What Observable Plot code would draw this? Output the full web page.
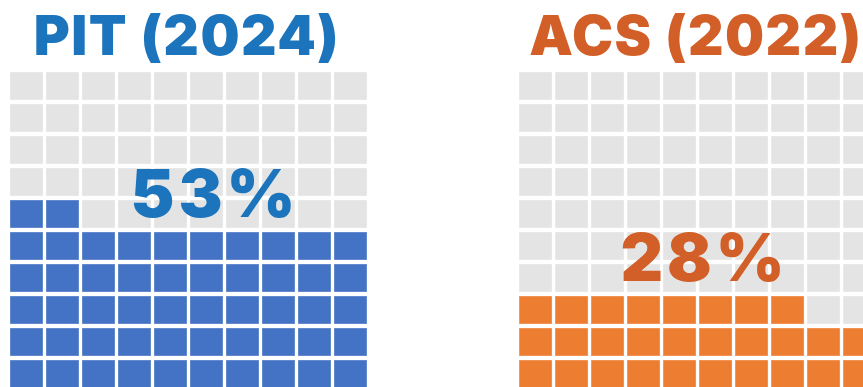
<!DOCTYPE html>
<html><head><meta charset="utf-8">
<script src="https://cdn.jsdelivr.net/npm/d3@7"></script>
<script src="https://cdn.jsdelivr.net/npm/@observablehq/plot@0.6"></script>
<style>html,body{margin:0;padding:0;background:#fff;overflow:hidden}</style>
</head><body><div id="chart"></div>
<script>
// ---- data ----
const titles = ["PIT (2024)", "ACS (2022)"];
const percentLabels = ["53%", "28%"];
const filledCells = [52, 28];
const gridCols = 10;
const gridRows = 10;
const titleColors = ["#1c75bc", "#d35f28"];
const fillColors = ["#4472c4", "#ed7d31"];
const emptyColor = "#e4e4e4";

// ---- layout (not data) ----
const groupOffset = [0, 14.14];
const labelShift = [0.68, 0.14];
const FONT = "Inter, 'Open Sans', sans-serif";

const cells = [];
titles.forEach((t, g) => {
  for (let i = 0; i < gridCols * gridRows; i++) {
    cells.push({
      group: g,
      col: (i % gridCols) + groupOffset[g],
      row: gridRows - 1 - Math.floor(i / gridCols),
      filled: i < filledCells[g]
    });
  }
});
const groups = titles.map((t, g) => ({
  g, title: t, label: percentLabels[g], filled: filledCells[g]
}));

const chart = Plot.plot({
  width: 863,
  height: 387,
  margin: 0,
  x: {type: "linear", domain: [0, 1], range: [10, 46], axis: null},
  y: {type: "linear", domain: [0, 1], range: [72, 104], axis: null},
  marks: [
    Plot.rect(cells, {
      x1: "col", x2: d => d.col + 1,
      y1: "row", y2: d => d.row + 1,
      insetRight: 3, insetBottom: 4,
      fill: d => d.filled ? fillColors[d.group] : emptyColor,
      stroke: "#ffffff", strokeOpacity: 0.35, strokeWidth: 1
    }),
    Plot.text(groups, {
      x: d => groupOffset[d.g] + 4.9,
      y: -0.56,
      text: "title",
      fill: d => titleColors[d.g],
      fontSize: 55, fontWeight: 900, fontFamily: FONT,
      lineAnchor: "bottom", textAnchor: "middle"
    }),
    Plot.text(groups, {
      x: d => groupOffset[d.g] + 5 + labelShift[d.g],
      y: d => gridRows - Math.round(d.filled / gridCols) - 0.5,
      text: "label",
      fill: d => titleColors[d.g],
      fontSize: 66, fontWeight: 900, fontFamily: FONT,
      lineAnchor: "bottom", textAnchor: "middle"
    })
  ]
});
d3.select(chart).selectAll("g[aria-label='text']").filter((d, i) => i === 0).style("letter-spacing", "1.5px");
d3.select(chart).selectAll("g[aria-label='text']").filter((d, i) => i === 1).style("letter-spacing", "4px");
document.getElementById("chart").appendChild(chart);
</script>
</body></html>
